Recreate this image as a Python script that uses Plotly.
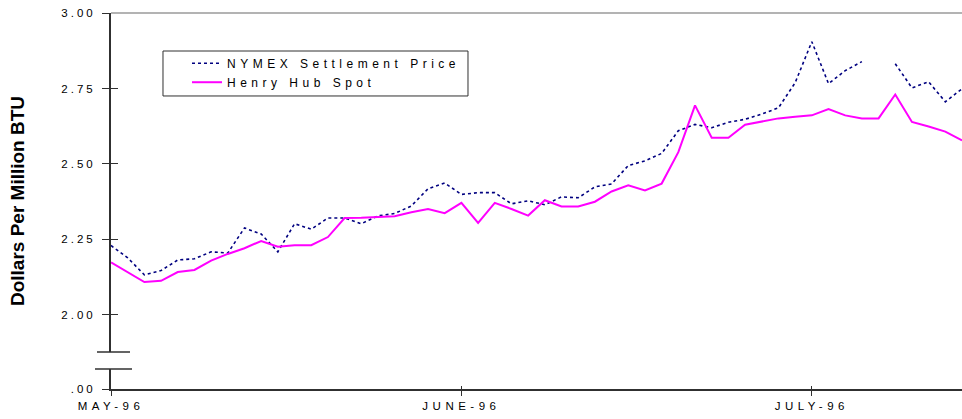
import plotly.graph_objects as go

# ---------------- data ----------------
DAY_INDEX = list(range(52))          # evenly spaced trading-day positions
MONTH_TICK_POS = [0, 21, 42]
MONTH_TICK_TEXT = ["MAY-96", "JUNE-96", "JULY-96"]

NYMEX = [2.230, 2.189, 2.133, 2.147, 2.182, 2.186, 2.209, 2.205, 2.288, 2.268,
         2.209, 2.302, 2.284, 2.321, 2.321, 2.302, 2.328, 2.336, 2.361, 2.418,
         2.437, 2.399, 2.405, 2.405, 2.368, 2.378, 2.365, 2.391, 2.388, 2.424,
         2.434, 2.495, 2.510, 2.535, 2.610, 2.631, 2.620, 2.638, 2.648, 2.665,
         2.686, 2.769, 2.905, 2.766, 2.809, 2.839, None, 2.832, 2.752, 2.772,
         2.706, 2.749]

HENRY_HUB = [2.174, 2.142, 2.109, 2.113, 2.142, 2.149, 2.180, 2.202, 2.221, 2.245,
             2.226, 2.231, 2.231, 2.258, 2.321, 2.322, 2.324, 2.327, 2.340, 2.351,
             2.337, 2.371, 2.305, 2.371, 2.351, 2.329, 2.380, 2.359, 2.359, 2.375,
             2.409, 2.429, 2.412, 2.435, 2.539, 2.694, 2.587, 2.587, 2.630, 2.641,
             2.651, 2.656, 2.661, 2.682, 2.661, 2.651, 2.651, 2.730, 2.639, 2.624,
             2.607, 2.578]

# y axis: broken scale, the bottom of the axis stands for 0 (".00")
AXIS_FLOOR = 1.7547
Y_TICK_VALS = [AXIS_FLOOR, 2.00, 2.25, 2.50, 2.75, 3.00]
Y_TICK_TEXT = [".00", "2.00", "2.25", "2.50", "2.75", "3.00"]
BREAK_LOW, BREAK_HIGH = 1.821, 1.877

FONT = "Liberation Sans, Arial, sans-serif"
AXIS_COLOR = "#303030"

fig = go.Figure()
fig.add_trace(go.Scatter(
    x=DAY_INDEX, y=NYMEX, mode="lines", name="NYMEX Settlement Price",
    line=dict(color="#000080", width=1.6, dash="dot"), connectgaps=False))
fig.add_trace(go.Scatter(
    x=DAY_INDEX, y=HENRY_HUB, mode="lines", name="Henry Hub Spot",
    line=dict(color="#FF00FF", width=2)))
# empty trace so the overlay axes (crossing tick marks) are drawn
fig.add_trace(go.Scatter(x=[], y=[], xaxis="x2", yaxis="y2",
                         showlegend=False, hoverinfo="skip"))

fig.update_layout(
    width=962, height=419,
    margin=dict(l=111, r=0, t=13, b=30, autoexpand=False),
    paper_bgcolor="white", plot_bgcolor="white",
    font=dict(family=FONT, color="black", size=12),
    showlegend=True,
    legend=dict(x=0.0893, y=0.905, xanchor="left", yanchor="top",
                bgcolor="rgba(0,0,0,0)", borderwidth=0,
                font=dict(family=FONT, size=12, color="black"),
                tracegroupgap=0),
    xaxis=dict(range=[0, 51], tickvals=MONTH_TICK_POS, ticktext=MONTH_TICK_TEXT,
               automargin=False,
               showgrid=False, zeroline=False, showline=True,
               linecolor=AXIS_COLOR, linewidth=2, ticks="outside", ticklen=5,
               tickcolor=AXIS_COLOR, tickwidth=1,
               tickfont=dict(family=FONT, size=11.5, color="black")),
    yaxis=dict(range=[AXIS_FLOOR, 3.0], tickvals=Y_TICK_VALS, ticktext=Y_TICK_TEXT,
               automargin=False,
               showgrid=False, zeroline=False, showline=True,
               linecolor=AXIS_COLOR, linewidth=2, ticks="outside", ticklen=7,
               tickcolor=AXIS_COLOR, tickwidth=1, ticklabelstandoff=4,
               tickfont=dict(family=FONT, size=11.5, color="black"),
               title=dict(text="<b>Dollars Per Million BTU</b>", standoff=44,
                          font=dict(family=FONT, size=19, color="black"))),
    xaxis2=dict(overlaying="x", matches="x", anchor="y", tickvals=MONTH_TICK_POS,
                showticklabels=False, ticks="inside", ticklen=3, automargin=False,
                tickcolor=AXIS_COLOR, showline=False, showgrid=False,
                zeroline=False),
    yaxis2=dict(overlaying="y", matches="y", anchor="x", tickvals=Y_TICK_VALS[1:],
                showticklabels=False, ticks="inside", ticklen=7, automargin=False,
                tickcolor=AXIS_COLOR, showline=False, showgrid=False,
                zeroline=False),
    shapes=[
        # top frame line at 3.00
        dict(type="line", xref="paper", yref="paper", x0=0, x1=1, y0=1, y1=1,
             line=dict(color="#9a9a9a", width=1.5), layer="above"),
        # axis break: gap in the axis line
        dict(type="rect", xref="paper", yref="y", xsizemode="pixel", xanchor=0,
             x0=-4, x1=4, y0=BREAK_LOW, y1=BREAK_HIGH,
             fillcolor="white", line=dict(width=0), layer="above"),
        dict(type="line", xref="paper", yref="y", xsizemode="pixel", xanchor=0,
             x0=-14, x1=19, y0=BREAK_HIGH, y1=BREAK_HIGH,
             line=dict(color=AXIS_COLOR, width=1.5), layer="above"),
        dict(type="line", xref="paper", yref="y", xsizemode="pixel", xanchor=0,
             x0=-16, x1=21, y0=BREAK_LOW, y1=BREAK_LOW,
             line=dict(color=AXIS_COLOR, width=1.5), layer="above"),
        # legend frame
        dict(type="rect", xref="paper", yref="paper",
             x0=0.0611, x1=0.4195, y0=0.7793, y1=0.8989,
             line=dict(color="#303030", width=1), fillcolor="rgba(0,0,0,0)",
             layer="above"),
    ],
)

POST = """
document.body.style.margin = '0';
document.body.style.overflow = 'hidden';
var gd = document.getElementById('{plot_id}');
function sp(sel, v) {
  gd.querySelectorAll(sel).forEach(function (t) { t.style.letterSpacing = v; });
}
sp('.legendtext', '4.5px');
sp('.xtick text', '4.5px');
sp('.ytick text', '3px');
gd.querySelectorAll('.legend .scrollbox, .legend').forEach(function (s) {
  s.removeAttribute('clip-path');
});
"""

fig.write_html("out.html", post_script=POST, config={"displayModeBar": False})
